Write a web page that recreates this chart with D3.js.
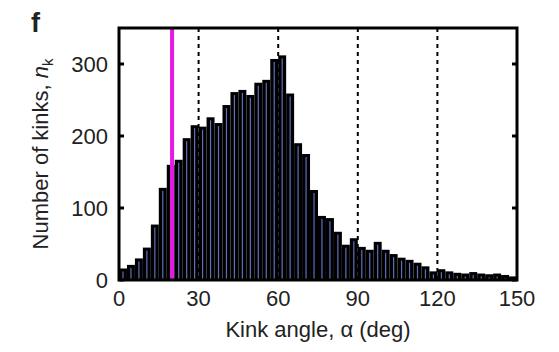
<!DOCTYPE html>
<html>
<head>
<meta charset="utf-8">
<script src="https://cdn.jsdelivr.net/npm/d3@7"></script>
<style>
  body { margin: 0; background: #fff; }
  text { font-family: "Liberation Sans", Arial, sans-serif; fill: #222; }
</style>
</head>
<body>
<div id="chart"></div>
<script>
// histogram of kink angles, 3 deg bins from 0 to 150
var binStart = d3.range(0, 150, 3);
var counts = [16, 21, 30, 45, 77, 128, 160, 167, 197, 215,
              213, 226, 218, 243, 261, 264, 257, 274, 278, 307,
              312, 259, 190, 175, 125, 89, 86, 67, 49, 58,
              46, 42, 53, 42, 36, 31, 28, 24, 19, 12,
              15, 12, 10, 9, 11, 9, 8, 9, 7, 5];
var xTicks = [0, 30, 60, 90, 120, 150];
var yTicks = [0, 100, 200, 300];
var dashedAt = [30, 60, 90, 120];
var markAt = 20;

var W = 559, H = 352;
var margin = {top: 28, right: 42, bottom: 72, left: 119};

var svg = d3.select("#chart").append("svg")
    .attr("width", W)
    .attr("height", H);

var x = d3.scaleLinear().domain([0, 150]).range([margin.left, W - margin.right]);
var y = d3.scaleLinear().domain([0, 350]).range([H - margin.bottom, margin.top]);

// dashed reference lines (behind the bars)
svg.append("g").selectAll("line")
    .data(dashedAt)
    .enter().append("line")
    .attr("x1", function(d) { return x(d); })
    .attr("x2", function(d) { return x(d); })
    .attr("y1", y(350))
    .attr("y2", y(0))
    .attr("stroke", "#000")
    .attr("stroke-width", 2)
    .attr("stroke-dasharray", "4,4");

// bars: black with a thin blue core
svg.append("g").selectAll("rect")
    .data(counts)
    .enter().append("rect")
    .attr("x", function(d, i) { return x(binStart[i]); })
    .attr("y", function(d) { return y(d); })
    .attr("width", function(d, i) { return x(binStart[i] + 3) - x(binStart[i]); })
    .attr("height", function(d) { return y(0) - y(d); })
    .attr("fill", "#000");

svg.append("g").selectAll("rect")
    .data(counts)
    .enter().append("rect")
    .attr("x", function(d, i) { return x(binStart[i] + 1.5) - 0.6; })
    .attr("y", function(d) { return y(d) + 3; })
    .attr("width", 1.2)
    .attr("height", function(d) { return Math.max(0, y(0) - y(d) - 4); })
    .attr("fill", "#5f6fbc");

// magenta marker
svg.append("line")
    .attr("x1", x(markAt)).attr("x2", x(markAt))
    .attr("y1", y(350)).attr("y2", y(0))
    .attr("stroke", "#e619e6")
    .attr("stroke-width", 4);

// box and ticks
var tickLen = 5;
var axes = svg.append("g").attr("fill", "none").attr("stroke", "#000").attr("stroke-width", 3);
axes.append("rect")
    .attr("x", x(0)).attr("y", y(350))
    .attr("width", x(150) - x(0))
    .attr("height", y(0) - y(350));

axes.selectAll("line.yl")
    .data(yTicks)
    .enter().append("line")
    .attr("x1", x(0)).attr("x2", x(0) + tickLen)
    .attr("y1", function(d) { return y(d); })
    .attr("y2", function(d) { return y(d); });

axes.selectAll("line.yr")
    .data(yTicks)
    .enter().append("line")
    .attr("x1", x(150)).attr("x2", x(150) - tickLen)
    .attr("y1", function(d) { return y(d); })
    .attr("y2", function(d) { return y(d); });

// tick labels
svg.append("g").selectAll("text")
    .data(yTicks)
    .enter().append("text")
    .attr("x", x(0) - 11)
    .attr("y", function(d) { return y(d) + 8; })
    .attr("text-anchor", "end")
    .attr("font-size", "22px")
    .text(function(d) { return d; });

svg.append("g").selectAll("text")
    .data(xTicks)
    .enter().append("text")
    .attr("x", function(d) { return x(d); })
    .attr("y", 306)
    .attr("text-anchor", "middle")
    .attr("font-size", "22px")
    .text(function(d) { return d; });

// axis titles
svg.append("text")
    .attr("x", 318)
    .attr("y", 337)
    .attr("text-anchor", "middle")
    .attr("font-size", "22px")
    .text("Kink angle, α (deg)");

var yl = svg.append("text")
    .attr("transform", "translate(48,154) rotate(-90)")
    .attr("text-anchor", "middle")
    .attr("font-size", "22px");
yl.append("tspan").text("Number of kinks, ");
yl.append("tspan").attr("font-style", "italic").text("n");
yl.append("tspan").attr("font-size", "15px").attr("dy", 5).text("k");

svg.append("text")
    .attr("x", 31)
    .attr("y", 32)
    .attr("font-size", "27px")
    .attr("font-weight", "bold")
    .text("f");
</script>
</body>
</html>
